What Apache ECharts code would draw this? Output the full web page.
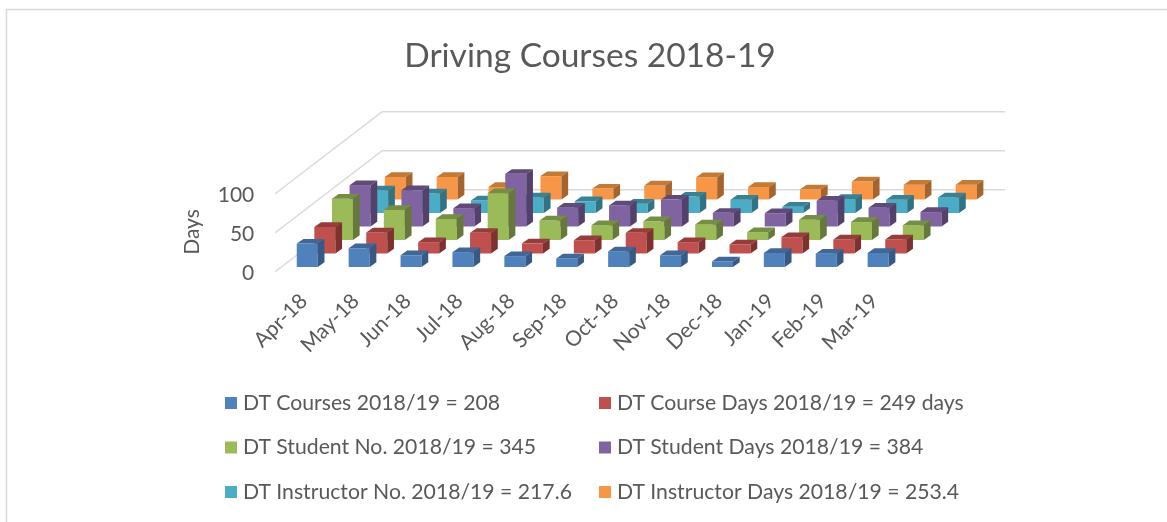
<!DOCTYPE html>
<html>
<head>
<meta charset="utf-8">
<style>
  html, body { margin: 0; padding: 0; background: #fff; }
  #chart { width: 1167px; height: 522px; }
</style>
<script src="https://cdn.jsdelivr.net/npm/echarts@6/dist/echarts.min.js"></script>
</head>
<body>
<div id="chart"></div>
<script>
var months = ['Apr-18','May-18','Jun-18','Jul-18','Aug-18','Sep-18','Oct-18','Nov-18','Dec-18','Jan-19','Feb-19','Mar-19'];
var yTicks = [0, 50, 100];

var courses = [30, 24, 15, 19, 14, 11, 20, 15, 7, 18, 17, 18];
var courseDays = [34, 27, 14.5, 26.5, 13, 17, 26.5, 14.5, 11.5, 21, 18, 18];
var studentNo = [53, 38.5, 27, 60, 25, 19, 24, 20, 10, 26, 23, 19];
var studentDays = [53, 46.5, 23.5, 67.5, 24, 27, 34.5, 17.5, 17, 33, 24, 18.5];
var instructorNo = [29, 25, 16, 20, 15, 12, 21, 17, 8, 18, 17, 20];
var instructorDays = [29, 29, 16, 30, 14, 18, 28.5, 16, 13, 23, 19, 19];

var seriesNames = [
  'DT Courses 2018/19 = 208',
  'DT Course Days 2018/19 = 249 days',
  'DT Student No. 2018/19 = 345',
  'DT Student Days 2018/19 = 384',
  'DT Instructor No. 2018/19 = 217.6',
  'DT Instructor Days 2018/19 = 253.4'
];
var seriesValues = [courses, courseDays, studentNo, studentDays, instructorNo, instructorDays];
var colors = ['#4F81BD', '#C0504D', '#9BBB59', '#8064A2', '#4BACC6', '#F79646'];
var topColors = ['#3F6797', '#963D3B', '#748E44', '#5F4A79', '#388296', '#C27A35'];
var sideColors = ['#375A85', '#7E3230', '#66793A', '#54416B', '#317283', '#A5642E'];

// oblique projection of the Excel 3D look: one depth row = this many px
var rowX = 17.6, rowY = 13.5;
var boxX = 6.7, boxY = 4.7;
var barShare = 0.405;
var font = 'Lato';
var textColor = '#595959';

function barSeries(name, values, row) {
  return {
    name: name,
    type: 'custom',
    z: 10 - row,
    itemStyle: { color: colors[row] },
    encode: { x: 0, y: 1 },
    data: values.map(function (v, i) { return [i, v]; }),
    renderItem: function (params, api) {
      var i = api.value(0);
      var base = api.coord([i, 0]);
      var top = api.coord([i, api.value(1)]);
      var w = api.size([1, 0])[0] * barShare;
      var l = base[0] - w / 2 + row * rowX;
      var r = l + w;
      var b = base[1] - row * rowY;
      var t = top[1] - row * rowY;
      function poly(points, fill) {
        return { type: 'polygon', shape: { points: points }, style: { fill: fill } };
      }
      return {
        type: 'group',
        children: [
          poly([[l, b], [r, b], [r, t], [l, t]], colors[row]),
          poly([[l, t], [r, t], [r + boxX, t - boxY], [l + boxX, t - boxY]], topColors[row]),
          poly([[r, b], [r + boxX, b - boxY], [r + boxX, t - boxY], [r, t]], sideColors[row])
        ]
      };
    }
  };
}

// floor and wall lines, bent at the back left corner
var wallSeries = {
  type: 'custom',
  z: 1,
  silent: true,
  encode: { x: 0, y: 1 },
  data: yTicks.map(function (v) { return [0, v]; }),
  renderItem: function (params, api) {
    var v = api.value(1);
    var band = api.size([1, 0])[0];
    var p = api.coord([0, v]);
    var q = api.coord([months.length - 1, v]);
    var left = p[0] - band / 2;
    var right = q[0] + band / 2;
    var front = -0.35, back = 5.73;
    return {
      type: 'polyline',
      shape: {
        points: [
          [left + front * rowX, p[1] - front * rowY],
          [left + back * rowX, p[1] - back * rowY],
          [right + back * rowX, p[1] - back * rowY]
        ]
      },
      style: { stroke: '#d9d9d9', lineWidth: 1.5, fill: null }
    };
  }
};

var series = [wallSeries];
seriesNames.forEach(function (name, k) {
  series.push(barSeries(name, seriesValues[k], k));
});

function legendColumn(left, names) {
  return {
    left: left,
    top: 391,
    orient: 'vertical',
    itemWidth: 12,
    itemHeight: 12,
    itemGap: 20.5,
    icon: 'rect',
    selectedMode: false,
    padding: 0,
    data: names,
    textStyle: { fontFamily: font, fontSize: 21.2, color: textColor, padding: [0, 0, 0, 1], height: 24, lineHeight: 24 }
  };
}

var myChart = echarts.init(document.getElementById('chart'));

myChart.setOption({
  animation: false,
  backgroundColor: '#fff',
  title: {
    text: 'Driving Courses 2018-19',
    left: 585,
    textAlign: 'center',
    top: 34,
    textStyle: { fontFamily: font, fontSize: 33.5, fontWeight: 'normal', color: textColor }
  },
  legend: [
    legendColumn(225, [seriesNames[0], seriesNames[2], seriesNames[4]]),
    legendColumn(599, [seriesNames[1], seriesNames[3], seriesNames[5]])
  ],
  grid: { left: 281.3, top: 189, width: 622.8, height: 78 },
  xAxis: {
    type: 'category',
    data: months,
    axisLine: { show: false },
    axisTick: { show: false },
    axisLabel: {
      interval: 0,
      rotate: 45,
      margin: 27,
      padding: [0, 5, 0, 0],
      fontFamily: font,
      fontSize: 21,
      color: textColor
    }
  },
  yAxis: {
    type: 'value',
    min: 0,
    max: 100,
    interval: 50,
    name: 'Days',
    nameLocation: 'middle',
    nameRotate: 90,
    nameGap: 79,
    nameTextStyle: { fontFamily: font, fontSize: 21, color: textColor, padding: [0, 8, 0, 0] },
    axisLine: { show: false },
    axisTick: { show: false },
    splitLine: { show: false },
    axisLabel: {
      margin: 27,
      fontFamily: font,
      fontSize: 21,
      color: textColor,
      verticalAlign: 'top',
      lineHeight: 12
    }
  },
  graphic: [{
    type: 'polyline',
    silent: true,
    shape: { points: [[6.5, 522], [6.5, 9.5], [1167, 9.5]] },
    style: { stroke: '#d9d9d9', lineWidth: 1.5, fill: null }
  }],
  series: series
});
</script>
</body>
</html>
